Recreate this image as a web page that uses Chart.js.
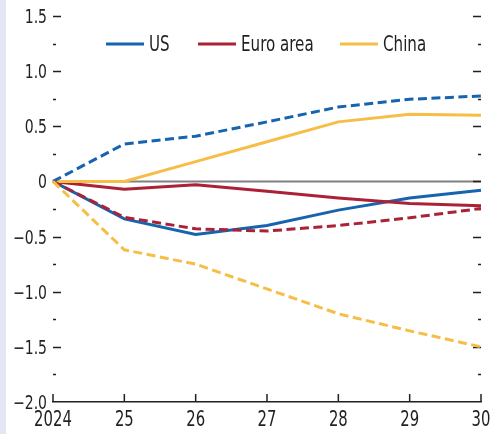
<!DOCTYPE html>
<html>
<head>
<meta charset="utf-8">
<script src="https://cdn.jsdelivr.net/npm/chart.js@4/dist/chart.umd.min.js"></script>
<style>
html,body{margin:0;padding:0;background:#fff;}
#wrap{position:relative;width:493px;height:434px;}
</style>
</head>
<body>
<div id="wrap"><canvas id="c" width="493" height="434"></canvas></div>
<script>
const years = ["2024","25","26","27","28","29","30"];
const usSolid    = [0, -0.34, -0.48, -0.40, -0.26, -0.15, -0.08];
const usDashed   = [0, 0.34, 0.41, 0.54, 0.675, 0.745, 0.775];
const euroSolid  = [0, -0.07, -0.03, -0.09, -0.15, -0.20, -0.22];
const euroDashed = [0, -0.325, -0.43, -0.45, -0.40, -0.33, -0.245];
const chinaSolid = [0, 0, 0.18, 0.36, 0.54, 0.61, 0.60];
const chinaDashed= [0, -0.62, -0.75, -0.975, -1.20, -1.355, -1.50];
const legendLabels = ["US", "Euro area", "China"];
const yMin = -2, yMax = 1.5, yStep = 0.25;

const BLUE = "#1664af", RED = "#ab2236", YELLOW = "#f6be46", INK = "#231f20";
const FONT = "'DejaVu Sans Condensed','DejaVu Sans',sans-serif";

function fmt(v){
  if (Math.abs(v) < 1e-9) return "0";
  const s = Math.abs(v).toFixed(1);
  return v < 0 ? "\u2212" + s : s;
}
function isMajor(v){ return Math.abs(v*2 - Math.round(v*2)) < 1e-9; }

function text(ctx, str, x, y, align, size, sx){
  ctx.save();
  ctx.font = size + "px " + FONT;
  ctx.fillStyle = INK;
  ctx.textBaseline = "alphabetic";
  ctx.textAlign = align;
  ctx.translate(x, y);
  ctx.scale(sx, 1);
  ctx.fillText(str, 0, 0);
  ctx.restore();
}

const decor = {
  id: "decor",
  beforeDraw(chart){
    const ctx = chart.ctx;
    ctx.save();
    ctx.fillStyle = "#e2e7f3";
    ctx.fillRect(0, 0, 6, chart.height);
    ctx.restore();
  },
  beforeDatasetsDraw(chart){
    const {ctx, chartArea:a, scales:{x, y}} = chart;
    ctx.save();
    const y0 = y.getPixelForValue(0);
    ctx.strokeStyle = "#808080";
    ctx.lineWidth = 2;
    ctx.beginPath(); ctx.moveTo(a.left, y0); ctx.lineTo(a.right, y0); ctx.stroke();
    ctx.strokeStyle = INK;
    ctx.lineWidth = 1.3;
    y.ticks.forEach(t => {
      const v = t.value;
      const py = Math.round(y.getPixelForValue(v)) + 0.5;
      if (isMajor(v)) text(ctx, fmt(v), a.left - 6, py + 6.8, "right", 19, 0.82);
      if (Math.abs(v - yMin) < 1e-9) return;
      const len = isMajor(v) ? 8 : 3;
      ctx.beginPath();
      ctx.moveTo(a.left, py); ctx.lineTo(a.left + len, py);
      ctx.moveTo(a.right, py); ctx.lineTo(a.right - len, py);
      ctx.stroke();
    });
    ctx.lineWidth = 1.5;
    years.forEach((lab, i) => {
      const px = x.getPixelForValue(i);
      ctx.beginPath(); ctx.moveTo(px, a.bottom); ctx.lineTo(px, a.bottom - 8); ctx.stroke();
      text(ctx, lab, px, a.bottom + 23.5, "center", 22, 0.75);
    });
    ctx.restore();
  },
  afterDatasetsDraw(chart){
    const ctx = chart.ctx;
    ctx.save();
    const ly = 44;
    const starts = [106, 198, 340];
    const cols = [BLUE, RED, YELLOW];
    legendLabels.forEach((lab, i) => {
      ctx.strokeStyle = cols[i];
      ctx.lineWidth = 3;
      ctx.beginPath(); ctx.moveTo(starts[i], ly); ctx.lineTo(starts[i] + 38, ly); ctx.stroke();
      text(ctx, lab, starts[i] + 43, 51, "left", 21, 0.8);
    });
    ctx.restore();
  }
};

function ds(data, color, dashed){
  return {
    data, borderColor: color, backgroundColor: color, borderWidth: 3,
    borderDash: dashed ? [9,4.5] : [], pointRadius: 0, tension: 0, fill: false,
    borderCapStyle: "butt", borderJoinStyle: "miter"
  };
}

new Chart(document.getElementById("c"), {
  type: "line",
  data: {
    labels: years,
    datasets: [
      ds(chinaDashed, YELLOW, true),
      ds(euroDashed, RED, true),
      ds(usDashed, BLUE, true),
      ds(chinaSolid, YELLOW, false),
      ds(euroSolid, RED, false),
      ds(usSolid, BLUE, false)
    ]
  },
  options: {
    responsive: false,
    animation: false,
    devicePixelRatio: 1,
    layout: { padding: { left: 0, right: 12, top: 16, bottom: 0 } },
    plugins: { legend: { display: false }, tooltip: { enabled: false } },
    scales: {
      x: {
        offset: false,
        grid: { display: false },
        border: { display: true, color: INK, width: 1.5 },
        ticks: { display: false },
        afterFit(s){ s.height = 32; }
      },
      y: {
        min: yMin, max: yMax,
        grid: { display: false },
        border: { display: false },
        ticks: { display: false, stepSize: yStep },
        afterFit(s){ s.width = 53; }
      }
    }
  },
  plugins: [decor]
});
</script>
</body>
</html>
